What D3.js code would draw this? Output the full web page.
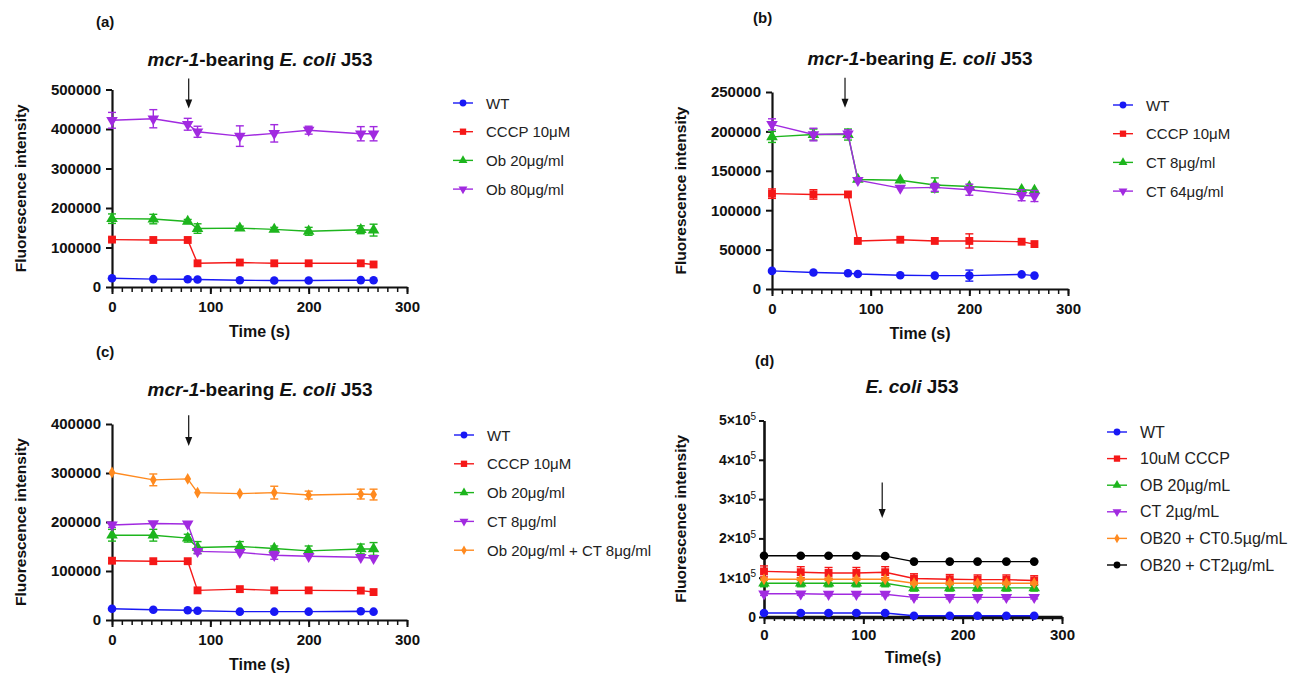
<!DOCTYPE html>
<html><head><meta charset="utf-8">
<script src="https://cdn.jsdelivr.net/npm/d3@7"></script>
<style>
body{margin:0;background:#fff;}
svg{display:block;font-family:"Liberation Sans",Arial,Helvetica,sans-serif;}
</style></head><body>
<svg id="chart" width="1298" height="673"></svg>
<script>
// ---------------- DATA ----------------
const timesABC = [0, 42, 77, 87, 130, 165, 200, 253, 266];
const timesD   = [0, 37, 65, 93, 122, 151, 187, 215, 244, 272];
const xTicks = [0, 100, 200, 300];

// panel (a)
const aWT     = [22000, 20000, 19500, 19000, 17000, 16500, 16500, 17500, 17000];
const aWTErr  = [3000, 2000, 2000, 2000, 2000, 2000, 2000, 2000, 2000];
const aCCCP   = [120000, 119000, 119000, 60000, 62000, 60000, 60000, 60000, 57000];
const aCCCPErr= [5000, 4000, 4000, 3000, 4000, 3000, 3000, 4000, 4000];
const aOb20   = [173000, 172000, 166000, 148000, 149000, 146000, 141000, 145000, 144000];
const aOb20Err= [12000, 12000, 5000, 12000, 5000, 5000, 10000, 10000, 15000];
const aOb80   = [422000, 426000, 412000, 393000, 382000, 389000, 397000, 388000, 388000];
const aOb80Err= [20000, 23000, 15000, 14000, 26000, 22000, 10000, 18000, 18000];
const aYTicks = [0, 100000, 200000, 300000, 400000, 500000];
const aLegend = ["WT", "CCCP 10\u03bcM", "Ob 20\u03bcg/ml", "Ob 80\u03bcg/ml"];

// panel (b)
const bWT     = [23000, 21000, 20000, 19000, 17500, 17000, 17000, 18500, 17000];
const bWTErr  = [3000, 2000, 2000, 2000, 2000, 2000, 7000, 2000, 2000];
const bCCCP   = [121000, 120000, 120000, 61000, 62500, 61000, 61000, 60000, 57000];
const bCCCPErr= [6000, 6000, 3000, 3000, 3000, 3000, 9000, 3000, 3000];
const bCT8    = [193000, 196000, 196000, 139000, 138000, 132000, 130000, 126000, 125000];
const bCT8Err = [7000, 7000, 7000, 4000, 4000, 9000, 4000, 4000, 4000];
const bCT64   = [209000, 196000, 197000, 138000, 128000, 129000, 126000, 119000, 118000];
const bCT64Err= [7000, 8000, 5000, 3000, 4000, 5000, 7000, 7000, 7000];
const bYTicks = [0, 50000, 100000, 150000, 200000, 250000];
const bLegend = ["WT", "CCCP 10\u03bcM", "CT 8\u03bcg/ml", "CT 64\u03bcg/ml"];

// panel (c)
const cWT     = [23000, 21000, 20000, 19000, 17000, 17000, 17000, 18000, 17000];
const cWTErr  = [3000, 2000, 2000, 2000, 2000, 2000, 2000, 2000, 2000];
const cCCCP   = [121000, 120000, 120000, 60500, 63000, 60500, 60500, 60000, 57000];
const cCCCPErr= [5000, 4000, 4000, 3000, 4000, 3000, 3000, 4000, 4000];
const cOb20   = [173000, 173000, 167000, 148000, 150000, 146000, 141000, 145000, 145000];
const cOb20Err= [12000, 12000, 8000, 12000, 10000, 5000, 10000, 10000, 13000];
const cCT8    = [194000, 197000, 196000, 140000, 138000, 132000, 130000, 128000, 126000];
const cCT8Err = [5000, 4000, 4000, 5000, 4000, 8000, 4000, 4000, 4000];
const cObCT   = [301000, 286000, 288000, 260000, 258000, 260000, 255000, 257000, 256000];
const cObCTErr= [3000, 12000, 3000, 3000, 3000, 13000, 8000, 10000, 11000];
const cYTicks = [0, 100000, 200000, 300000, 400000];
const cLegend = ["WT", "CCCP 10\u03bcM", "Ob 20\u03bcg/ml", "CT 8\u03bcg/ml", "Ob 20\u03bcg/ml + CT 8\u03bcg/ml"];

// panel (d)
const dWT      = [10000, 10000, 10000, 10000, 10000, 3000, 3000, 3000, 3000, 3000];
const dWTErr   = [3000, 3000, 3000, 3000, 3000, 2000, 2000, 2000, 2000, 2000];
const dCCCP    = [116000, 114000, 112000, 112000, 114000, 98000, 96000, 95000, 95000, 93000];
const dCCCPErr = [14000, 14000, 14000, 14000, 14000, 12000, 12000, 12000, 12000, 12000];
const dOB      = [86000, 86000, 86000, 86000, 86000, 74000, 74000, 74000, 74000, 74000];
const dOBErr   = [9000, 9000, 9000, 9000, 9000, 8000, 8000, 8000, 8000, 8000];
const dCT      = [59000, 59000, 58000, 58000, 58000, 50000, 50000, 50000, 50000, 50000];
const dCTErr   = [4000, 4000, 4000, 4000, 4000, 4000, 4000, 4000, 4000, 4000];
const dOBCT05  = [96000, 96000, 96000, 96000, 96000, 86000, 86000, 86000, 86000, 86000];
const dOBCT05Err=[3000, 3000, 3000, 3000, 3000, 3000, 3000, 3000, 3000, 3000];
const dOBCT2   = [156000, 156000, 156000, 156000, 155000, 141000, 141000, 141000, 141000, 141000];
const dOBCT2Err= [2000, 2000, 2000, 2000, 2000, 2000, 2000, 2000, 2000, 2000];
const dYTicks  = [0, 100000, 200000, 300000, 400000, 500000];
const dYTickLabels = ["0", "1\u00d710^5", "2\u00d710^5", "3\u00d710^5", "4\u00d710^5", "5\u00d710^5"];
const dLegend  = ["WT", "10uM CCCP", "OB 20\u00b5g/mL", "CT 2\u00b5g/mL", "OB20 + CT0.5\u00b5g/mL", "OB20 + CT2\u00b5g/mL"];

// arrows: [time, top value, bottom value]
const aArrow = [78, 528000, 452000];
const bArrow = [74, 268000, 230000];
const cArrow = [78, 418000, 355000];
const dArrow = [119, 342000, 252000];

// ---------------- STYLE ----------------
const C = {blue:"#1818f5", red:"#f51818", green:"#1db51d", purple:"#a12ae0", orange:"#ff8a1f", black:"#000000"};

const panels = [
  {lab:"(a)", labXY:[96,27], title:"mcr", titleXY:[260,66], xr:[112,407], yr:[287,89.5], yMax:500000,
   yTicks:aYTicks, times:timesABC, yLabX:20, arrow:aArrow, legX:463, legY:103, legDy:28.7, legNames:aLegend,
   series:[[aWT,aWTErr,C.blue,"circle"],[aCCCP,aCCCPErr,C.red,"square"],[aOb20,aOb20Err,C.green,"tri"],[aOb80,aOb80Err,C.purple,"triDown"]]},
  {lab:"(b)", labXY:[753,23], title:"mcr", titleXY:[920,65], xr:[772,1068], yr:[289,92], yMax:250000,
   yTicks:bYTicks, times:timesABC, yLabX:680, arrow:bArrow, legX:1123, legY:105, legDy:28.7, legNames:bLegend,
   series:[[bWT,bWTErr,C.blue,"circle"],[bCCCP,bCCCPErr,C.red,"square"],[bCT8,bCT8Err,C.green,"tri"],[bCT64,bCT64Err,C.purple,"triDown"]]},
  {lab:"(c)", labXY:[96,357], title:"mcr", titleXY:[260,396], xr:[112,407], yr:[620,424], yMax:400000,
   yTicks:cYTicks, times:timesABC, yLabX:20, arrow:cArrow, legX:464, legY:435, legDy:28.8, legNames:cLegend,
   series:[[cWT,cWTErr,C.blue,"circle"],[cCCCP,cCCCPErr,C.red,"square"],[cOb20,cOb20Err,C.green,"tri"],[cCT8,cCT8Err,C.purple,"triDown"],[cObCT,cObCTErr,C.orange,"diamond"]]},
  {lab:"(d)", labXY:[755,366], title:"eco", titleXY:[912,393], xr:[764,1062], yr:[617,420.5], yMax:500000,
   yTicks:dYTicks, yTickLabels:dYTickLabels, times:timesD, yLabX:680, arrow:dArrow, legX:1117, legY:432, legDy:26.6, legNames:dLegend, sci:true,
   series:[[dWT,dWTErr,C.blue,"circle"],[dCCCP,dCCCPErr,C.red,"square"],[dOB,dOBErr,C.green,"tri"],[dCT,dCTErr,C.purple,"triDown"],[dOBCT05,dOBCT05Err,C.orange,"diamond"],[dOBCT2,dOBCT2Err,C.black,"circle"]]}
];

const symMap = {circle:d3.symbolCircle, square:d3.symbolSquare, tri:d3.symbolTriangle, triDown:d3.symbolTriangle, diamond:d3.symbolDiamond};
const sizeMap = {circle:58, square:62, tri:58, triDown:58, diamond:40};
const legSize = {circle:36, square:40, tri:34, triDown:34, diamond:26};

function marker(g, shape, cx, cy, size, color){
  g.append("path")
    .attr("d", d3.symbol(symMap[shape], size)())
    .attr("transform", `translate(${cx},${cy})` + (shape==="triDown" ? " rotate(180)" : ""))
    .attr("fill", color);
}

const svg = d3.select("#chart");

panels.forEach(p => {
  const g = svg.append("g");
  const x = d3.scaleLinear().domain([0, 300]).range(p.xr);
  const y = d3.scaleLinear().domain([0, p.yMax]).range(p.yr);

  // panel label
  g.append("text").attr("x", p.labXY[0]).attr("y", p.labXY[1])
    .attr("font-size", 15).attr("font-weight", "bold").attr("fill", "#111").text(p.lab);

  // title
  const t = g.append("text").attr("x", p.titleXY[0]).attr("y", p.titleXY[1])
    .attr("text-anchor", "middle").attr("font-size", 19).attr("font-weight", "bold").attr("fill", "#111");
  if (p.title === "mcr") {
    t.append("tspan").attr("font-style", "italic").text("mcr-1");
    t.append("tspan").text("-bearing ");
    t.append("tspan").attr("font-style", "italic").text("E. coli");
    t.append("tspan").text(" J53");
  } else {
    t.append("tspan").attr("font-style", "italic").text("E. coli");
    t.append("tspan").text(" J53");
  }

  // minor x ticks
  const minor = d3.range(0, 301, 10);
  const xMinor = g.append("g").attr("transform", `translate(0,${y(0)})`)
    .call(d3.axisBottom(x).tickValues(minor).tickSize(p.sci ? 4 : 5).tickFormat("").tickSizeOuter(0));
  xMinor.select(".domain").remove();
  xMinor.selectAll("line").attr("stroke", "#111").attr("stroke-width", 1.5);

  // major x axis
  const xAx = g.append("g").attr("transform", `translate(0,${y(0)})`)
    .call(d3.axisBottom(x).tickValues(xTicks).tickSize(7).tickPadding(p.sci ? 5 : 7).tickSizeOuter(0));
  xAx.select(".domain").attr("stroke", "#111").attr("stroke-width", p.sci ? 3.5 : 2.2);
  xAx.selectAll("line").attr("stroke", "#111").attr("stroke-width", 2);
  xAx.selectAll("text").attr("font-size", 15).attr("font-weight", "bold").attr("fill", "#111")
    .attr("font-family", "'Liberation Sans',Arial,sans-serif");

  // y axis
  const yAxis = d3.axisLeft(y).tickValues(p.yTicks).tickSize(p.sci ? 5 : 6).tickPadding(p.sci ? 3 : 5).tickSizeOuter(0);
  if (!p.sci) yAxis.tickFormat(d3.format("d"));
  const yAx = g.append("g").attr("transform", `translate(${x(0)},0)`).call(yAxis);
  yAx.select(".domain").attr("stroke", "#111").attr("stroke-width", p.sci ? 2.6 : 2.2);
  yAx.selectAll("line").attr("stroke", "#111").attr("stroke-width", 2);
  yAx.selectAll("text").attr("font-size", 15).attr("font-weight", "bold").attr("fill", "#111")
    .attr("font-family", "'Liberation Sans',Arial,sans-serif");
  if (p.sci) {
    yAx.selectAll("text").each(function(d, i) {
      const lbl = p.yTickLabels[i];
      const el = d3.select(this).text(null).attr("font-size", 14);
      if (lbl.indexOf("^") < 0) { el.text(lbl); return; }
      const parts = lbl.split("^");
      el.append("tspan").text(parts[0]);
      el.append("tspan").attr("font-size", 10).attr("font-weight", "normal").attr("dy", "-0.55em").text(parts[1]);
    });
  }

  // axis titles
  g.append("text").attr("transform", `translate(${p.yLabX},${(p.yr[0] + p.yr[1]) / 2}) rotate(-90)`)
    .attr("text-anchor", "middle").attr("dominant-baseline", "central")
    .attr("font-size", 15.5).attr("font-weight", "bold").attr("fill", "#111").text("Fluorescence intensity");
  g.append("text").attr("x", (p.xr[0] + p.xr[1]) / 2).attr("y", y(0) + (p.sci ? 40 : 44))
    .attr("text-anchor", "middle").attr("dominant-baseline", "central")
    .attr("font-size", 16).attr("font-weight", "bold").attr("fill", "#111").text(p.sci ? "Time(s)" : "Time (s)");

  // arrow
  const ax = x(p.arrow[0]), ay1 = y(p.arrow[1]), ay2 = y(p.arrow[2]);
  g.append("line").attr("x1", ax).attr("x2", ax).attr("y1", ay1).attr("y2", ay2 - 6)
    .attr("stroke", "#111").attr("stroke-width", 1.2);
  g.append("path").attr("d", `M${ax - 3.5},${ay2 - 9} L${ax + 3.5},${ay2 - 9} L${ax},${ay2} Z`).attr("fill", "#111");

  // series
  p.series.forEach(s => {
    const [vals, errs, col, shape] = s;
    const sg = g.append("g");
    const line = d3.line().x((d, i) => x(p.times[i])).y(d => y(d));
    sg.append("path").datum(vals).attr("d", line).attr("fill", "none").attr("stroke", col).attr("stroke-width", 1.4);
    vals.forEach((v, i) => {
      const e = errs[i];
      const cx = x(p.times[i]);
      const y1 = y(v + e), y2 = y(v - e);
      sg.append("line").attr("x1", cx).attr("x2", cx).attr("y1", y1).attr("y2", y2).attr("stroke", col).attr("stroke-width", 1.4);
      if (e >= 5000 || p.sci) {
        [y1, y2].forEach(yy => sg.append("line").attr("x1", cx - 4).attr("x2", cx + 4).attr("y1", yy).attr("y2", yy)
          .attr("stroke", col).attr("stroke-width", 1.4));
      }
    });
    vals.forEach((v, i) => marker(sg, shape, x(p.times[i]), y(v), sizeMap[shape], col));
  });

  // legend
  p.series.forEach((s, i) => {
    const ly = p.legY + i * p.legDy;
    const col = s[2];
    g.append("line").attr("x1", p.legX - 10).attr("x2", p.legX + 10).attr("y1", ly).attr("y2", ly)
      .attr("stroke", col).attr("stroke-width", 1.4);
    marker(g, s[3], p.legX, ly, legSize[s[3]], col);
    g.append("text").attr("x", p.legX + 23).attr("y", ly).attr("dominant-baseline", "central")
      .attr("font-size", p.sci ? 16 : 15).attr("fill", "#222").text(p.legNames[i]);
  });
});
</script>
</body></html>
